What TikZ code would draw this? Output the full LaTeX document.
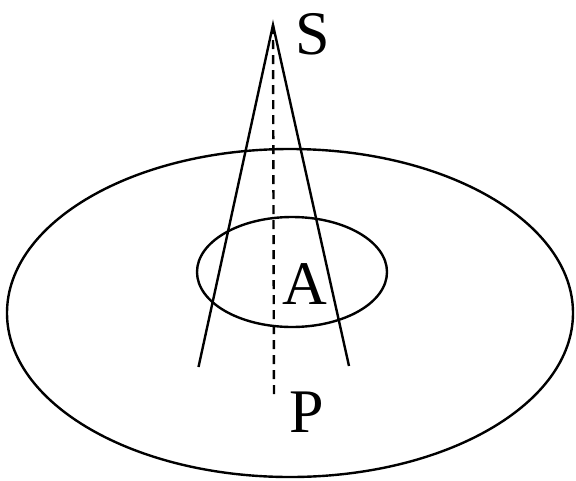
\documentclass[tikz,border=0pt]{standalone}
\usepackage{fontspec}
\setmainfont{Liberation Serif}
\begin{document}
\begin{tikzpicture}[x=1pt,y=-1pt,
  line/.style={line width=2.4pt},
  dashline/.style={line width=2.4pt,dash pattern=on 9pt off 6pt},
  lbl/.style={inner sep=0pt,font=\fontsize{62}{70}\selectfont}]
\useasboundingbox (0,0) rectangle (576,480);
\draw[line] (290,313) ellipse [x radius=283, y radius=164];
\draw[line] (292,272) ellipse [x radius=95, y radius=55];
\coordinate (S0) at (273,25);
\coordinate (L) at (198.5,367);
\coordinate (R) at (349,366);
\coordinate (P0) at (274,399);
\draw[line] (L) -- (S0) -- (R);
\draw[dashline] (S0) -- (P0);
\node[lbl] (S) at (313,34) {S};
\node[lbl] (A) at (305,284) {A};
\node[lbl] (P) at (307,412) {P};
\end{tikzpicture}
\end{document}
